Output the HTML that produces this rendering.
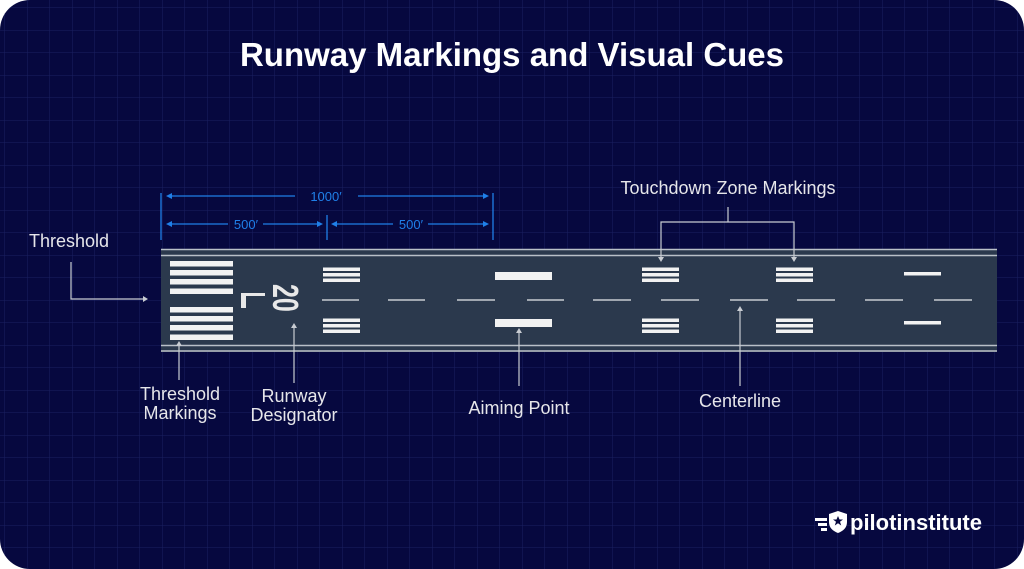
<!DOCTYPE html>
<html><head><meta charset="utf-8"><style>
html,body{margin:0;padding:0;background:#fff;}
svg{display:block;}
text{font-family:"Liberation Sans",sans-serif;}
</style></head><body>
<svg width="1024" height="569" viewBox="0 0 1024 569" xmlns="http://www.w3.org/2000/svg">
<defs>
<pattern id="g" width="22.5" height="22.5" patternUnits="userSpaceOnUse" x="5" y="8">
<path d="M22.5 0V22.5M0 22.5H22.5" stroke="#1a2060" stroke-width="1" fill="none"/>
</pattern>
<clipPath id="c"><rect x="0" y="0" width="1024" height="569" rx="30"/></clipPath>
</defs>
<g clip-path="url(#c)">
<rect width="1024" height="569" fill="#06083f"/>
<rect width="1024" height="569" fill="url(#g)"/>
</g>
<text x="512" y="66" fill="#fff" font-size="33" font-weight="bold" text-anchor="middle">Runway Markings and Visual Cues</text>

<!-- dimensions -->
<g stroke="#1f7fe8" stroke-width="1.3" fill="#1f7fe8">
<line x1="161" y1="193" x2="161" y2="240"/>
<line x1="327" y1="215" x2="327" y2="240"/>
<line x1="493" y1="193" x2="493" y2="240"/>
<line x1="170" y1="196" x2="295" y2="196"/><line x1="358" y1="196" x2="485" y2="196"/>
<line x1="170" y1="224" x2="228" y2="224"/><line x1="263" y1="224" x2="320" y2="224"/>
<line x1="336" y1="224" x2="393" y2="224"/><line x1="428" y1="224" x2="485" y2="224"/>
<path d="M166 196l6-3v6z M489 196l-6-3v6z M166 224l6-3v6z M323 224l-6-3v6z M331 224l6-3v6z M489 224l-6-3v6z" stroke="none"/>
</g>
<g fill="#1f7fe8" font-size="13" text-anchor="middle">
<text x="326" y="201">1000′</text>
<text x="246" y="229">500′</text>
<text x="411" y="229">500′</text>
</g>

<!-- runway -->
<rect x="161" y="249" width="836" height="103" fill="#2b394d"/>
<g stroke="#b9c0c8" stroke-width="1.5">
<line x1="161" y1="249.5" x2="997" y2="249.5"/>
<line x1="161" y1="255.5" x2="997" y2="255.5"/>
<line x1="161" y1="345.5" x2="997" y2="345.5"/>
<line x1="161" y1="351" x2="997" y2="351"/>
</g>
<g fill="#f2f2f2">
<rect x="170" y="261" width="63" height="5.5"/><rect x="170" y="270" width="63" height="5.5"/>
<rect x="170" y="279" width="63" height="5.5"/><rect x="170" y="288.5" width="63" height="5.5"/>
<rect x="170" y="307" width="63" height="5.5"/><rect x="170" y="316" width="63" height="5.5"/>
<rect x="170" y="325" width="63" height="5.5"/><rect x="170" y="334.5" width="63" height="5.5"/>
<rect x="323" y="267.5" width="37" height="3.5"/><rect x="323" y="273" width="37" height="3.5"/><rect x="323" y="278.5" width="37" height="3.5"/>
<rect x="323" y="318.5" width="37" height="3.5"/><rect x="323" y="324" width="37" height="3.5"/><rect x="323" y="329.5" width="37" height="3.5"/>
<rect x="642" y="267.5" width="37" height="3.5"/><rect x="642" y="273" width="37" height="3.5"/><rect x="642" y="278.5" width="37" height="3.5"/>
<rect x="642" y="318.5" width="37" height="3.5"/><rect x="642" y="324" width="37" height="3.5"/><rect x="642" y="329.5" width="37" height="3.5"/>
<rect x="776" y="267.5" width="37" height="3.5"/><rect x="776" y="273" width="37" height="3.5"/><rect x="776" y="278.5" width="37" height="3.5"/>
<rect x="776" y="318.5" width="37" height="3.5"/><rect x="776" y="324" width="37" height="3.5"/><rect x="776" y="329.5" width="37" height="3.5"/>
<rect x="495" y="272" width="57" height="8"/><rect x="495" y="319" width="57" height="8"/>
<rect x="904" y="272" width="37" height="3.5"/><rect x="904" y="321" width="37" height="3.5"/>
</g>
<!-- L and 20 -->
<path d="M241 293h24v3h-19v12h-5z" fill="#e8e8e8"/>
<text transform="translate(299,284) rotate(90) scale(1,1.45)" fill="#e8e8e8" font-size="25" font-weight="bold" x="0" y="0" dominant-baseline="hanging">20</text>
<!-- centerline -->
<g stroke="#c8ccd2" stroke-width="1.5">
<line x1="322" y1="300" x2="359" y2="300"/><line x1="388" y1="300" x2="425" y2="300"/>
<line x1="457" y1="300" x2="495" y2="300"/><line x1="527" y1="300" x2="564" y2="300"/>
<line x1="593" y1="300" x2="631" y2="300"/><line x1="661" y1="300" x2="699" y2="300"/>
<line x1="730" y1="300" x2="768" y2="300"/><line x1="797" y1="300" x2="835" y2="300"/>
<line x1="865" y1="300" x2="903" y2="300"/><line x1="934" y1="300" x2="972" y2="300"/>
</g>

<!-- leaders -->
<g stroke="#c8ccd2" stroke-width="1.2" fill="none">
<path d="M71 262V299H146"/>
<path d="M179 344V380"/>
<path d="M294 326V383"/>
<path d="M519 331V386"/>
<path d="M740 309V386"/>
<path d="M728 207V222H661V259M728 222H794V259"/>
</g>
<g fill="#c8ccd2">
<path d="M148 299l-5-3v6z M179 341l-3 5h6z M294 323l-3 5h6z M519 328l-3 5h6z M740 306l-3 5h6z M661 262l-3-5h6z M794 262l-3-5h6z"/>
</g>
<g fill="#e6e6ea" font-size="18">
<text x="29" y="247">Threshold</text>
<text x="180" y="400" text-anchor="middle">Threshold</text>
<text x="180" y="419" text-anchor="middle">Markings</text>
<text x="294" y="402" text-anchor="middle">Runway</text>
<text x="294" y="421" text-anchor="middle">Designator</text>
<text x="519" y="414" text-anchor="middle">Aiming Point</text>
<text x="740" y="407" text-anchor="middle">Centerline</text>
<text x="728" y="194" text-anchor="middle">Touchdown Zone Markings</text>
</g>
<!-- logo -->
<g fill="#fff">
<path d="M815 518h12v3h-12zM818 523h9v3h-9zM821 528h6v3h-6z"/>
<path d="M829 514l9 -3l9 3v8c0 6-4 9-9 11c-5-2-9-5-9-11z"/>
<path d="M838 516l1.5 3.5h3.5l-3 2.3 1.2 3.7-3.2-2.3-3.2 2.3 1.2-3.7-3-2.3h3.5z" fill="#06083f"/>
<text x="850" y="530" font-size="22" font-weight="bold">pilotinstitute</text>
</g>
</svg>
</body></html>
